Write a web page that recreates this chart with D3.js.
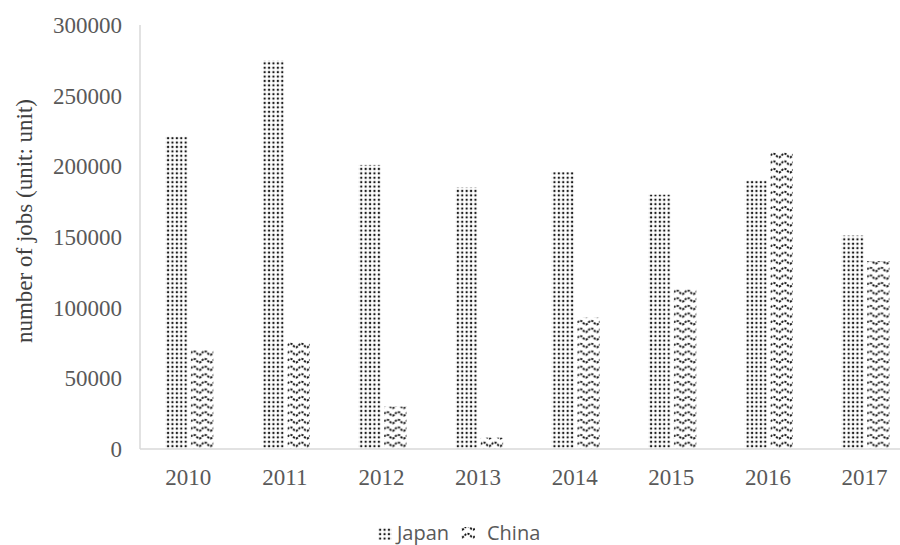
<!DOCTYPE html>
<html>
<head>
<meta charset="utf-8">
<script src="https://cdn.jsdelivr.net/npm/d3@7/dist/d3.min.js"></script>
<style>
  body { margin: 0; background: #fff; }
  svg { display: block; }
</style>
</head>
<body>
<svg id="chart" width="900" height="545"></svg>
<script>
// Job counts by year, Japan vs China
const years = ["2010", "2011", "2012", "2013", "2014", "2015", "2016", "2017"];
const japan = [221000, 275000, 201000, 185000, 196000, 180000, 190000, 151000];
const china = [70000, 76000, 30000, 8000, 93000, 113000, 210000, 133000];
const seriesNames = ["Japan", "China"];
const yTicks = [0, 50000, 100000, 150000, 200000, 250000, 300000];

const svg = d3.select("#chart");
const W = 900, H = 545;
const plotLeft = 140, bandStep = 96.6, plotTop = 25, plotBase = 449;

const x = d3.scaleBand().domain(years).range([plotLeft, plotLeft + bandStep * years.length]).padding(0);
const y = d3.scaleLinear().domain([0, 300000]).range([plotBase, plotTop]);
// bar offsets within a year group, relative to the group centre
const inner = d3.scaleBand().domain(seriesNames).range([-23, 25]).paddingInner(0.12);

// Fill patterns: dot grid and dotted waves
const defs = svg.append("defs");
const dots = defs.append("pattern").attr("id", "pat-dots")
  .attr("patternUnits", "userSpaceOnUse").attr("width", 4.4).attr("height", 4.4);
dots.append("rect").attr("x", 0.7).attr("y", 0.7).attr("width", 2.1).attr("height", 2.1).attr("fill", "#1a1a1a");

const waves = defs.append("pattern").attr("id", "pat-waves")
  .attr("patternUnits", "userSpaceOnUse").attr("width", 11).attr("height", 7.6);
waves.append("path")
  .attr("d", "M0,5.4 C2,5.4 3,1.6 5.5,1.6 C8,1.6 9,5.4 11,5.4")
  .attr("fill", "none").attr("stroke", "#111").attr("stroke-width", 1.9)
  .attr("stroke-dasharray", "2.2,1.2");

const fills = { Japan: "url(#pat-dots)", China: "url(#pat-waves)" };

// Axis lines
svg.append("line").attr("x1", plotLeft).attr("x2", W)
  .attr("y1", y(0)).attr("y2", y(0)).attr("stroke", "#d9d9d9").attr("stroke-width", 1.5);
svg.append("line").attr("x1", plotLeft).attr("x2", plotLeft)
  .attr("y1", y(300000)).attr("y2", y(0)).attr("stroke", "#d9d9d9").attr("stroke-width", 1.5);

// Bars
const rows = years.map((yr, i) => ({ year: yr, Japan: japan[i], China: china[i] }));
const groups = svg.append("g").selectAll("g").data(rows).join("g")
  .attr("transform", d => `translate(${x(d.year) + x.bandwidth() / 2},0)`);
groups.selectAll("rect").data(d => seriesNames.map(k => ({ key: k, value: d[k] }))).join("rect")
  .attr("x", d => inner(d.key))
  .attr("width", inner.bandwidth())
  .attr("y", d => y(d.value))
  .attr("height", d => y(0) - y(d.value))
  .attr("fill", d => fills[d.key]);

const serif = "'Liberation Serif', 'Times New Roman', serif";

// Y axis
const yAxis = d3.axisLeft(y).tickValues(yTicks).tickSize(0).tickPadding(18).tickFormat(d3.format("d"));
svg.append("g").attr("transform", `translate(${plotLeft},0)`).call(yAxis)
  .call(s => s.select(".domain").remove())
  .selectAll("text")
  .attr("font-family", serif).attr("font-size", 23).attr("fill", "#595959");

// X axis
const xAxis = d3.axisBottom(x).tickSize(0).tickPadding(20);
svg.append("g").attr("transform", `translate(0,${y(0)})`).call(xAxis)
  .call(s => s.select(".domain").remove())
  .selectAll("text")
  .attr("font-family", serif).attr("font-size", 23).attr("fill", "#595959");

// Y axis title
svg.append("text")
  .attr("transform", `translate(32,221) rotate(-90)`)
  .attr("text-anchor", "middle")
  .attr("font-family", serif).attr("font-size", 23).attr("fill", "#404040")
  .text("number of jobs (unit: unit)");

// Legend
const legendPos = { Japan: { sw: 378, tx: 397 }, China: { sw: 461, tx: 487 } };
seriesNames.forEach(k => {
  const p = legendPos[k];
  svg.append("rect").attr("x", p.sw).attr("y", 527).attr("width", 14).attr("height", 13).attr("fill", fills[k]);
  svg.append("text").attr("x", p.tx).attr("y", 540)
    .attr("font-family", "'Open Sans', 'Liberation Sans', sans-serif")
    .attr("font-size", 20).attr("fill", "#595959").text(k);
});
</script>
</body>
</html>
